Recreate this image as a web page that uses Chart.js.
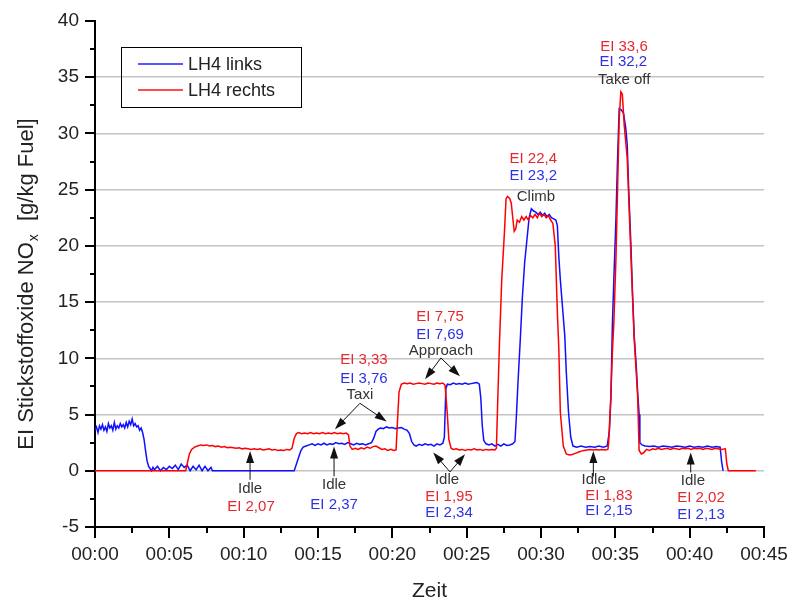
<!DOCTYPE html>
<html>
<head>
<meta charset="utf-8">
<script src="https://cdn.jsdelivr.net/npm/chart.js@4/dist/chart.umd.min.js"></script>
<style>
  body { margin: 0; background: #fff; }
  #wrap { width: 789px; height: 606px; }
</style>
</head>
<body>
<div id="wrap"><canvas id="noxChart" width="789" height="606"></canvas></div>
<script>
// ===== DATA (time in minutes, EI NOx in g/kg fuel) =====
const seriesNames = ['LH4 links', 'LH4 rechts'];
const xTickLabels = ['00:00', '00:05', '00:10', '00:15', '00:20', '00:25', '00:30', '00:35', '00:40', '00:45'];
const yTickValues = [-5, 0, 5, 10, 15, 20, 25, 30, 35, 40];

// LH4 links (blue)
const linksPoints = [
  [0.0, 3.6], [0.1, 3.9], [0.2, 3.4], [0.3, 4.0], [0.4, 3.7], [0.5, 4.1], [0.6, 3.6], [0.7, 3.9], [0.8, 3.5], [0.9, 4.2],
  [1.0, 3.8], [1.1, 4.0], [1.2, 3.6], [1.3, 4.3], [1.4, 3.7], [1.5, 4.0], [1.6, 3.8], [1.7, 4.2], [1.8, 3.9], [1.9, 4.1],
  [2.0, 3.8], [2.1, 4.3], [2.2, 3.9], [2.3, 4.4], [2.4, 4.1], [2.5, 4.6], [2.6, 4.0], [2.7, 4.2], [2.8, 3.9], [2.9, 4.0],
  [3.0, 3.6], [3.1, 3.8], [3.2, 3.4], [3.3, 2.8], [3.4, 1.8], [3.5, 0.9], [3.6, 0.4], [3.7, 0.2],
  [3.8, 0.0], [3.9, 0.3], [4.0, 0.1], [4.2, 0.4], [4.4, 0.0], [4.6, 0.3], [4.8, 0.1], [5.0, 0.4], [5.2, 0.2], [5.4, 0.5],
  [5.6, 0.1], [5.8, 0.6], [6.0, 0.3], [6.2, 0.5], [6.4, 0.0], [6.6, 0.4], [6.8, 0.1], [7.0, 0.5], [7.2, 0.0], [7.4, 0.4],
  [7.6, 0.0], [7.8, 0.3], [7.9, 0.0], [13.4, 0.0],
  [13.55, 0.6], [13.7, 1.2], [13.85, 1.8], [14.0, 2.1], [14.2, 2.2], [14.4, 2.3], [14.6, 2.4], [14.8, 2.25], [15.0, 2.4],
  [15.2, 2.3], [15.4, 2.45], [15.6, 2.3], [15.8, 2.4], [16.0, 2.35], [16.2, 2.5], [16.4, 2.4], [16.6, 2.45], [16.8, 2.35],
  [17.0, 2.5], [17.2, 2.4], [17.4, 2.3], [17.6, 2.45], [17.8, 2.35], [18.0, 2.4], [18.2, 2.3], [18.4, 2.4], [18.6, 2.5],
  [18.75, 2.9], [18.9, 3.5], [19.05, 3.7], [19.2, 3.8], [19.4, 3.75], [19.6, 3.9], [19.8, 3.8], [20.0, 3.85], [20.2, 3.75],
  [20.4, 3.8], [20.6, 3.85], [20.8, 3.7], [21.0, 3.6], [21.15, 3.3], [21.3, 2.6], [21.45, 2.3], [21.6, 2.2], [21.8, 2.35],
  [22.0, 2.25], [22.2, 2.4], [22.4, 2.3], [22.6, 2.35], [22.8, 2.2], [23.0, 2.4], [23.2, 2.3], [23.4, 2.45], [23.5, 3.0],
  [23.6, 7.3], [23.7, 7.7], [23.9, 7.65], [24.1, 7.8], [24.3, 7.7], [24.5, 7.75], [24.7, 7.7], [24.9, 7.8], [25.1, 7.7],
  [25.3, 7.75], [25.5, 7.8], [25.7, 7.85], [25.85, 7.7], [25.95, 6.5], [26.05, 4.0], [26.15, 2.7], [26.3, 2.4], [26.5, 2.3],
  [26.7, 2.4], [26.9, 2.2], [27.1, 2.35], [27.3, 2.2], [27.5, 2.4], [27.7, 2.25], [27.9, 2.3], [28.1, 2.4], [28.25, 2.6],
  [28.35, 5.0], [28.45, 7.8], [28.6, 11.5], [28.75, 15.5], [28.9, 18.5], [29.05, 20.5], [29.2, 22.5], [29.35, 23.3],
  [29.5, 23.1], [29.65, 23.0], [29.8, 22.8], [29.95, 23.0], [30.1, 22.7], [30.25, 22.9], [30.4, 22.6], [30.55, 22.8],
  [30.7, 22.5], [30.85, 22.4], [31.0, 22.3], [31.1, 21.8], [31.2, 19.0], [31.3, 17.0], [31.45, 14.5], [31.6, 12.0],
  [31.7, 8.8], [31.85, 5.2], [32.0, 3.0], [32.15, 2.2], [32.4, 2.1], [32.7, 2.2], [33.0, 2.1], [33.3, 2.15], [33.6, 2.1],
  [33.9, 2.2], [34.2, 2.1], [34.45, 2.2], [34.6, 3.5], [34.7, 6.4], [34.8, 12.9], [34.9, 17.0], [35.04, 22.4], [35.15, 27.8],
  [35.26, 32.2], [35.4, 32.1], [35.55, 31.8], [35.7, 30.5], [35.8, 29.0], [35.9, 25.0], [36.05, 20.0], [36.15, 16.0],
  [36.27, 12.0], [36.4, 9.5], [36.5, 7.0], [36.6, 5.0], [36.65, 2.5], [36.8, 2.3], [37.0, 2.2], [37.3, 2.15], [37.6, 2.2],
  [37.9, 2.1], [38.2, 2.2], [38.5, 2.15], [38.8, 2.1], [39.1, 2.2], [39.4, 2.15], [39.7, 2.1], [40.0, 2.2], [40.3, 2.1],
  [40.6, 2.15], [40.9, 2.1], [41.2, 2.2], [41.5, 2.1], [41.8, 2.15], [42.05, 2.1], [42.15, 0.8], [42.25, 0.0]
];

// LH4 rechts (red)
const rechtsPoints = [
  [0.0, 0.0], [6.1, 0.0], [6.2, 0.6], [6.35, 1.5], [6.5, 1.9], [6.7, 2.1], [6.9, 2.2], [7.1, 2.3], [7.3, 2.25], [7.5, 2.3],
  [7.7, 2.2], [7.9, 2.25], [8.1, 2.15], [8.3, 2.2], [8.5, 2.1], [8.7, 2.15], [8.9, 2.05], [9.1, 2.1], [9.3, 2.05], [9.5, 2.0],
  [9.7, 2.05], [9.9, 1.95], [10.1, 2.0], [10.3, 1.95], [10.5, 1.9], [10.7, 1.95], [10.9, 1.9], [11.1, 1.95], [11.3, 1.85],
  [11.5, 1.9], [11.7, 1.95], [11.9, 1.85], [12.1, 1.9], [12.3, 1.8], [12.5, 1.85], [12.7, 1.8], [12.9, 1.9], [13.1, 1.85],
  [13.25, 2.0], [13.4, 2.9], [13.55, 3.3], [13.7, 3.4], [13.9, 3.3], [14.1, 3.35], [14.3, 3.3], [14.5, 3.4], [14.7, 3.3],
  [14.9, 3.35], [15.1, 3.3], [15.3, 3.4], [15.5, 3.3], [15.7, 3.35], [15.9, 3.3], [16.1, 3.4], [16.3, 3.3], [16.5, 3.35],
  [16.7, 3.3], [16.9, 3.35], [17.05, 3.2], [17.15, 2.2], [17.3, 1.9], [17.5, 2.0], [17.7, 1.9], [17.9, 2.05], [18.1, 1.95],
  [18.3, 2.1], [18.5, 2.0], [18.7, 2.15], [18.9, 2.2], [19.1, 2.05], [19.3, 1.9], [19.5, 1.95], [19.7, 1.8], [19.9, 1.9],
  [20.1, 1.8], [20.25, 1.85], [20.35, 4.5], [20.45, 7.0], [20.6, 7.7], [20.8, 7.8], [21.0, 7.75], [21.2, 7.8], [21.4, 7.7],
  [21.6, 7.75], [21.8, 7.8], [22.0, 7.75], [22.2, 7.7], [22.4, 7.8], [22.6, 7.75], [22.8, 7.7], [23.0, 7.8], [23.2, 7.75],
  [23.4, 7.8], [23.55, 7.6], [23.7, 5.0], [23.8, 2.8], [23.95, 2.0], [24.1, 1.9], [24.3, 1.95], [24.5, 1.85], [24.7, 1.9],
  [24.9, 1.8], [25.1, 1.9], [25.3, 1.85], [25.5, 1.95], [25.7, 1.85], [25.9, 1.9], [26.1, 1.8], [26.3, 1.9], [26.5, 1.85],
  [26.7, 1.9], [26.9, 1.85], [27.0, 2.0], [27.1, 6.7], [27.2, 11.1], [27.36, 17.0], [27.54, 21.2], [27.65, 24.2],
  [27.75, 24.4], [27.9, 24.2], [28.0, 23.8], [28.1, 22.5], [28.2, 21.3], [28.3, 21.5], [28.4, 22.3], [28.55, 22.1],
  [28.7, 22.6], [28.85, 22.3], [29.0, 22.6], [29.15, 22.3], [29.3, 22.7], [29.45, 22.5], [29.6, 22.8], [29.75, 22.5],
  [29.9, 22.9], [30.05, 22.6], [30.2, 22.8], [30.35, 22.5], [30.5, 22.7], [30.65, 22.3], [30.8, 22.0], [30.96, 20.0],
  [31.1, 14.1], [31.2, 10.8], [31.3, 5.2], [31.5, 2.2], [31.7, 1.5], [31.9, 1.4], [32.1, 1.45], [32.3, 1.55], [32.5, 1.65],
  [32.7, 1.75], [32.9, 1.8], [33.1, 1.85], [33.3, 1.9], [33.5, 1.85], [33.7, 1.9], [33.9, 1.85], [34.1, 1.9], [34.3, 1.85],
  [34.5, 1.9], [34.55, 2.5], [34.7, 6.7], [34.8, 10.5], [34.9, 13.2], [35.04, 18.8], [35.15, 25.0], [35.26, 31.3],
  [35.37, 33.7], [35.47, 33.5], [35.6, 30.7], [35.8, 27.8], [36.05, 19.1], [36.27, 11.7], [36.5, 6.7], [36.6, 1.8],
  [36.75, 1.5], [36.9, 1.6], [37.1, 1.9], [37.3, 1.8], [37.5, 1.95], [37.7, 1.9], [37.9, 2.0], [38.1, 1.9], [38.3, 1.95],
  [38.5, 2.0], [38.7, 1.9], [38.9, 2.0], [39.1, 1.95], [39.3, 1.9], [39.5, 2.0], [39.7, 1.95], [39.9, 2.0], [40.1, 1.9],
  [40.3, 2.0], [40.5, 1.95], [40.7, 2.0], [40.9, 1.9], [41.1, 2.0], [41.3, 1.95], [41.5, 1.9], [41.7, 2.0], [41.9, 1.95],
  [42.1, 1.9], [42.4, 1.95], [42.5, 0.6], [42.6, 0.0], [44.45, 0.0]
];

// labels on the plot: text, minute, value, colour key
const noteTexts = [
  ['Idle', 10.43, -1.6, 'k'], ['EI 2,07', 10.49, -3.2, 'r'],
  ['Idle', 16.08, -1.25, 'k'], ['EI 2,37', 16.08, -3.02, 'b'],
  ['EI 3,33', 18.09, 9.87, 'r'], ['EI 3,76', 18.09, 8.18, 'b'], ['Taxi', 17.82, 6.76, 'k'],
  ['EI 7,75', 23.21, 13.7, 'r'], ['EI 7,69', 23.21, 12.1, 'b'], ['Approach', 23.27, 10.67, 'k'],
  ['Idle', 23.68, -0.8, 'k'], ['EI 1,95', 23.81, -2.31, 'r'], ['EI 2,34', 23.81, -3.74, 'b'],
  ['EI 22,4', 29.48, 27.72, 'r'], ['EI 23,2', 29.48, 26.24, 'b'], ['Climb', 29.66, 24.4, 'k'],
  ['Idle', 33.54, -0.8, 'k'], ['EI 1,83', 34.57, -2.22, 'r'], ['EI 2,15', 34.57, -3.56, 'b'],
  ['EI 33,6', 35.58, 37.74, 'r'], ['EI 32,2', 35.54, 36.4, 'b'], ['Take off', 35.6, 34.77, 'k'],
  ['Idle', 40.22, -0.86, 'k'], ['EI 2,02', 40.76, -2.43, 'r'], ['EI 2,13', 40.76, -3.91, 'b']
];

// arrows: from (minute, value) to (minute, value)
const noteArrows = [
  [10.43, -0.8, 10.43, 1.75],
  [16.08, -0.5, 16.08, 2.16],
  [17.82, 6.0, 16.14, 3.7], [17.82, 6.0, 19.62, 4.39],
  [23.27, 10.03, 22.2, 8.15], [23.27, 10.03, 24.55, 8.4],
  [23.88, -0.1, 22.75, 1.62], [23.88, -0.1, 24.89, 1.47],
  [33.52, -0.5, 33.52, 1.76],
  [40.07, -0.15, 40.07, 1.62]
];

const FONT = '"Liberation Sans", Arial, sans-serif';
const colorKey = { k: '#333333', r: '#e8262e', b: '#3030e6' };

// ===== HELPERS =====
function toXY(points) {
  return points.map(p => ({ x: p[0], y: p[1] }));
}

function drawArrow(ctx, x1, y1, x2, y2) {
  const ang = Math.atan2(y2 - y1, x2 - x1);
  const len = 12, half = 4;
  ctx.beginPath();
  ctx.moveTo(x1, y1);
  ctx.lineTo(x2 - Math.cos(ang) * len * 0.8, y2 - Math.sin(ang) * len * 0.8);
  ctx.stroke();
  ctx.beginPath();
  ctx.moveTo(x2, y2);
  ctx.lineTo(x2 - Math.cos(ang) * len - Math.sin(ang) * half, y2 - Math.sin(ang) * len + Math.cos(ang) * half);
  ctx.lineTo(x2 - Math.cos(ang) * len + Math.sin(ang) * half, y2 - Math.sin(ang) * len - Math.cos(ang) * half);
  ctx.closePath();
  ctx.fill();
}

// ===== OVERLAY: ticks, titles, legend, notes =====
const overlay = {
  id: 'overlay',
  afterDraw(chart) {
    const ctx = chart.ctx;
    const xs = chart.scales.x, ys = chart.scales.y;
    const left = chart.chartArea.left, bottom = chart.chartArea.bottom;
    ctx.save();

    // tick marks (outside)
    ctx.strokeStyle = '#000';
    ctx.lineWidth = 2;
    for (let v = -5; v <= 40; v += 2.5) {
      const py = Math.round(ys.getPixelForValue(v));
      const major = v % 5 === 0;
      ctx.beginPath();
      ctx.moveTo(left - (major ? 10 : 5), py);
      ctx.lineTo(left, py);
      ctx.stroke();
    }
    for (let m = 0; m <= 45; m += 2.5) {
      const px = Math.round(xs.getPixelForValue(m));
      const major = m % 5 === 0;
      ctx.beginPath();
      ctx.moveTo(px, bottom);
      ctx.lineTo(px, bottom + (major ? 11 : 6));
      ctx.stroke();
    }

    // axis titles
    ctx.fillStyle = '#222';
    ctx.textBaseline = 'middle';
    ctx.textAlign = 'center';
    ctx.font = '21px ' + FONT;
    ctx.fillText('Zeit', (left + chart.chartArea.right) / 2, 591);

    ctx.save();
    ctx.translate(27, 284);
    ctx.rotate(-Math.PI / 2);
    const partA = 'EI Stickstoffoxide NO', partB = 'x', partC = '  [g/kg Fuel]';
    ctx.font = '22px ' + FONT;
    const wa = ctx.measureText(partA).width, wc = ctx.measureText(partC).width;
    ctx.font = '14px ' + FONT;
    const wb = ctx.measureText(partB).width + 2;
    let x0 = -(wa + wb + wc) / 2;
    ctx.textAlign = 'left';
    ctx.font = '22px ' + FONT;
    ctx.fillText(partA, x0, 0);
    ctx.font = '14px ' + FONT;
    ctx.fillText(partB, x0 + wa + 1, 7);
    ctx.font = '22px ' + FONT;
    ctx.fillText(partC, x0 + wa + wb, 0);
    ctx.restore();

    // legend
    ctx.lineWidth = 1;
    ctx.strokeStyle = '#000';
    ctx.strokeRect(121.5, 47.5, 180, 60);
    const legendColors = ['#2020ff', '#ff1010'];
    seriesNames.forEach((name, i) => {
      const ly = 64 + i * 26;
      ctx.strokeStyle = legendColors[i];
      ctx.lineWidth = 1.5;
      ctx.beginPath();
      ctx.moveTo(138, ly);
      ctx.lineTo(183, ly);
      ctx.stroke();
      ctx.fillStyle = '#222';
      ctx.font = '18px ' + FONT;
      ctx.textAlign = 'left';
      ctx.fillText(name, 188, ly + 1);
    });

    // notes
    ctx.font = '15px ' + FONT;
    ctx.textAlign = 'center';
    noteTexts.forEach(n => {
      ctx.fillStyle = colorKey[n[3]];
      ctx.fillText(n[0], xs.getPixelForValue(n[1]), ys.getPixelForValue(n[2]));
    });
    ctx.strokeStyle = '#111';
    ctx.fillStyle = '#111';
    ctx.lineWidth = 1;
    noteArrows.forEach(a => {
      drawArrow(ctx, xs.getPixelForValue(a[0]), ys.getPixelForValue(a[1]),
        xs.getPixelForValue(a[2]), ys.getPixelForValue(a[3]));
    });
    ctx.restore();
  }
};

// ===== CHART =====
new Chart(document.getElementById('noxChart'), {
  type: 'line',
  data: {
    datasets: [
      { label: seriesNames[0], data: toXY(linksPoints), borderColor: '#1010ff', borderWidth: 1.5, pointRadius: 0, tension: 0, order: 2 },
      { label: seriesNames[1], data: toXY(rechtsPoints), borderColor: '#ff0000', borderWidth: 1.5, pointRadius: 0, tension: 0, order: 1 }
    ]
  },
  options: {
    responsive: false,
    animation: false,
    layout: { padding: { top: 21, right: 25, left: 0, bottom: 0 } },
    plugins: { legend: { display: false }, tooltip: { enabled: false } },
    scales: {
      x: {
        type: 'linear',
        min: 0, max: 45,
        afterFit: s => { s.height = 79; s.paddingLeft = 0; s.paddingRight = 0; },
        afterBuildTicks: s => { s.ticks = xTickLabels.map((_, i) => ({ value: i * 5 })); },
        ticks: {
          autoSkip: false, maxRotation: 0, padding: 16, color: '#222',
          font: { family: FONT, size: 19 },
          callback: (v, i) => xTickLabels[i]
        },
        grid: { display: true, drawTicks: false, color: 'rgba(0,0,0,0)' },
        border: { display: true, color: '#000', width: 2 }
      },
      y: {
        min: -5, max: 40,
        afterFit: s => { s.width = 95; s.paddingTop = 0; s.paddingBottom = 0; },
        afterBuildTicks: s => { s.ticks = yTickValues.map(v => ({ value: v })); },
        ticks: {
          autoSkip: false, padding: 16, color: '#222',
          font: { family: FONT, size: 19 }
        },
        grid: {
          drawTicks: false, lineWidth: 1.5,
          color: c => (c.tick && c.tick.value > -5 && c.tick.value < 40) ? '#c4c4c4' : 'rgba(0,0,0,0)'
        },
        border: { display: true, color: '#000', width: 2 }
      }
    }
  },
  plugins: [overlay]
});
</script>
</body>
</html>
